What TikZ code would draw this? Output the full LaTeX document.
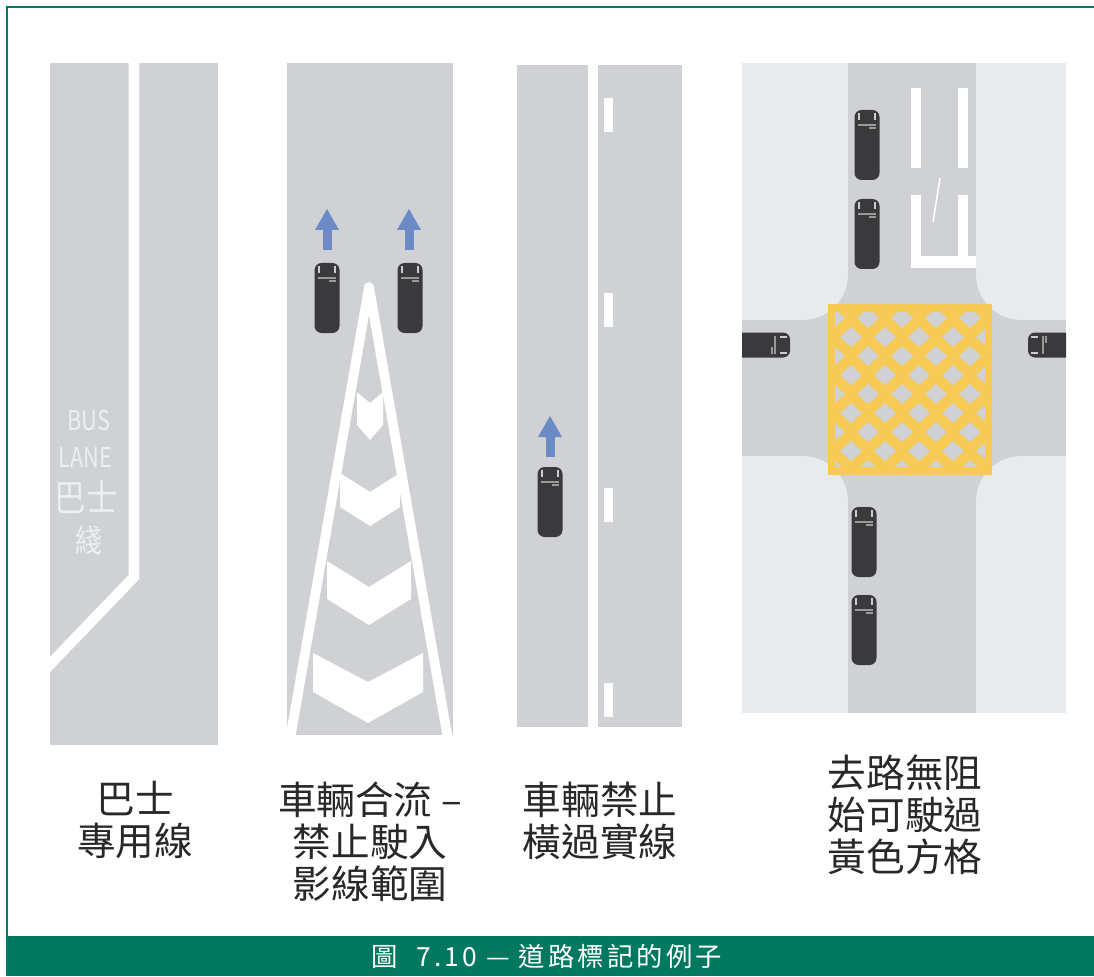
\documentclass[tikz,border=0pt]{standalone}
\usepackage{fontspec}
\newfontfamily\cjk{Noto Sans CJK TC}
\newfontfamily\capfont[LetterSpace=12]{Noto Sans CJK TC}
\definecolor{framegreen}{RGB}{3,120,96}
\definecolor{road}{RGB}{207,209,213}
\definecolor{verge}{RGB}{233,234,237}
\definecolor{cardark}{RGB}{58,58,60}
\definecolor{arrowblue}{RGB}{108,138,198}
\definecolor{boxyellow}{RGB}{246,202,84}
\definecolor{inktext}{RGB}{40,40,40}
\definecolor{roadtext}{RGB}{236,238,241}
\tikzset{
  panel/.style={fill=road},
  paint/.style={fill=white},
  paintline/.style={draw=white, line width=6pt},
  caption/.style={font=\cjk\fontsize{22}{24}\selectfont, align=center, text=inktext, inner sep=0pt},
  roadword/.style={text=roadtext, inner sep=0pt},
  car/.pic={
    \fill[cardark, rounded corners=4pt] (-12.5,-35) rectangle (12.5,35);
    \draw[white!80!black, line width=0.8pt] (-8,-32) -- (-8,-25) (8,-32) -- (8,-25);
    \draw[white!60!black, line width=0.6pt] (2,-17) -- (9,-17) (-9,-20) -- (9,-20);
  },
  uparrow/.pic={
    \fill[arrowblue] (-4.5,0) rectangle (4.5,-21);
    \fill[arrowblue] (-12,-20) -- (0,-41) -- (12,-20) -- cycle;
  }
}
\begin{document}
\begin{tikzpicture}[x=0.02cm, y=-0.02cm]
\useasboundingbox (0,0) rectangle (1094,976);
\fill[white] (0,0) rectangle (1094,976);

% frame and title bar
\draw[framegreen, line width=1.5pt] (7,936) -- (7,7) -- (1094,7);
\fill[framegreen] (6,936) rectangle (1094,976);
\node[font=\capfont\fontsize{15}{17}\selectfont, text=white, inner sep=0pt] (title) at (547,956) {圖\ \ 7.10 — 道路標記的例子};

% panel 1: bus lane
\fill[panel] (50,63) rectangle (218,745);
\begin{scope}
  \clip (50,63) rectangle (218,745);
  \draw[paintline, line join=miter] (134,50) -- (134,577) -- (36,679);
\end{scope}
\node[roadword, font=\cjk\fontsize{15.5}{15}\selectfont] (bus) at (89,421) {\scalebox{0.8}[1]{BUS}};
\node[roadword, font=\cjk\fontsize{15.5}{15}\selectfont] (lane) at (85,458) {\scalebox{0.8}[1]{LANE}};
\node[roadword, font=\cjk\fontsize{21}{21}\selectfont] (busz) at (86,497) {\scalebox{0.85}[1]{巴士}};
\node[roadword, font=\cjk\fontsize{18}{18}\selectfont] (line) at (89,541) {\scalebox{0.85}[1]{綫}};

% panel 2: merging traffic, hatched area
\fill[panel] (287,63) rectangle (453,735);
\begin{scope}
  \clip (287,63) rectangle (453,735);
  \draw[paintline, line width=5.5pt, line join=round] (289,745) -- (369,287) -- (449,745);
  \fill[paint] (357,392) -- (370,403) -- (383,392) -- (383,425) -- (370,440) -- (357,425) -- cycle;
  \fill[paint] (340,473) -- (370,492) -- (400,473) -- (400,507) -- (370,526) -- (340,507) -- cycle;
  \fill[paint] (327,561) -- (369,587) -- (411,561) -- (411,599) -- (369,625) -- (327,599) -- cycle;
  \fill[paint] (313,653) -- (368,682) -- (423,653) -- (423,692) -- (368,723) -- (313,692) -- cycle;
\end{scope}
\pic (arrA) at (327,250) {uparrow};
\pic (arrB) at (409,250) {uparrow};
\pic (carA) at (327,298) {car};
\pic (carB) at (410,298) {car};

% panel 3: solid line, no crossing
\fill[panel] (517,65) rectangle (682,727);
\fill[paint] (588,65) rectangle (598,727);
\foreach \y in {98,293,488,683} { \fill[paint] (604,\y) rectangle (613,\y+34); }
\pic (arrC) at (550,457) {uparrow};
\pic (carC) at (550,502) {car};

% panel 4: yellow box junction
\fill[verge] (742,63) rectangle (1066,713);
\begin{scope}
  \clip (742,63) rectangle (1066,713);
  \fill[road] (848,63) rectangle (976,713);
  \fill[road] (742,320) rectangle (1066,456);
  \fill[road] (848,275) arc[start angle=0, end angle=90, radius=45] -- (848,320) -- cycle;
  \fill[road] (976,275) arc[start angle=180, end angle=90, radius=45] -- (976,320) -- cycle;
  \fill[road] (848,501) arc[start angle=0, end angle=-90, radius=45] -- (848,456) -- cycle;
  \fill[road] (976,501) arc[start angle=180, end angle=270, radius=45] -- (976,456) -- cycle;
  % stop line and lane markings
  \fill[paint] (911,88) rectangle (921,168);
  \fill[paint] (958,88) rectangle (968,168);
  \fill[paint] (911,195) rectangle (921,268);
  \fill[paint] (958,195) rectangle (968,258);
  \fill[paint] (911,256) rectangle (976,268);
  \draw[white, line width=0.9pt] (940,178) -- (933,222);
  % yellow box
  \begin{scope}
    \clip (828,305) rectangle (991,474);
    \fill[boxyellow] (828,305) rectangle (991,474);
    \foreach \j in {-1,...,9} {
      \foreach \i in {-1,...,6} {
        \pgfmathsetmacro\cx{834+\i*34+mod(\j+2,2)*17}
        \pgfmathsetmacro\cy{318+\j*19}
        \fill[road] (\cx-11,\cy) -- (\cx,\cy-10) -- (\cx+11,\cy) -- (\cx,\cy+10) -- cycle;
      }
    }
  \end{scope}
  \draw[boxyellow, line width=4pt] (831,308) rectangle (988,471);
  \pic[rotate=-90] (carL) at (755,345) {car};
  \pic[rotate=90] (carR) at (1063,345) {car};
\end{scope}
\pic (carD) at (867,145) {car};
\pic (carE) at (867,234) {car};
\pic (carF) at (864,542) {car};
\pic (carG) at (864,630) {car};

% captions
\node[caption] (capA) at (135,820) {巴士\\專用線};
\node[caption] (capB) at (370,842) {車輛合流 –\\禁止駛入\\影線範圍};
\node[caption] (capC) at (600,821) {車輛禁止\\橫過實線};
\node[caption] (capD) at (905,815) {去路無阻\\始可駛過\\黃色方格};
\end{tikzpicture}
\end{document}
